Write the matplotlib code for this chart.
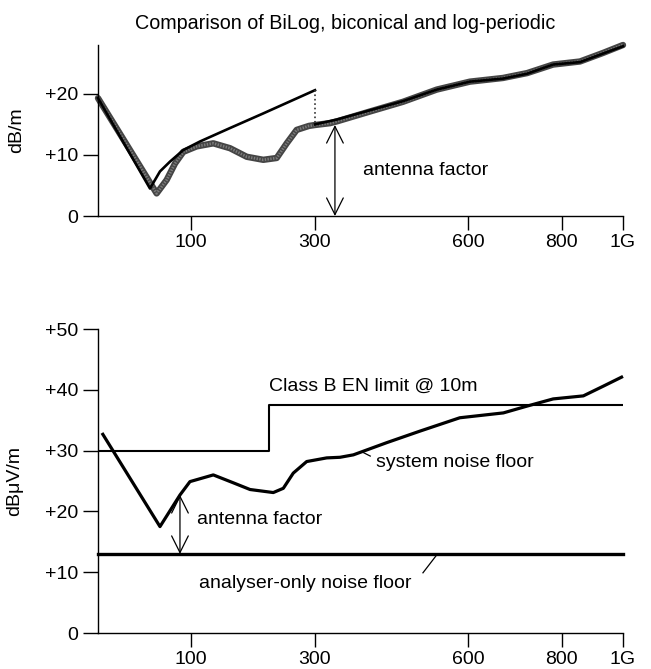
import numpy as np
import matplotlib
matplotlib.use('Agg')
import matplotlib.pyplot as plt

plt.rcParams['font.family'] = ['Liberation Sans', 'DejaVu Sans']

# ---- frequency axis of the original (hand drawn, non-uniform spacing) ----
AXIS_MHZ = [30, 100, 300, 600, 800, 1000]
AXIS_POS = [0.0, 0.1777, 0.4133, 0.7057, 0.8829, 1.0]

TICK_MHZ = [100, 300, 600, 800, 1000]
TICK_LABELS = ['100', '300', '600', '800', '1G']

# ---- top panel: antenna factors (dB/m) ----
bilog_mhz = [30, 54, 74, 81.5, 87.8, 94, 108.7, 135.6, 162.6, 189.6, 216.4, 238.1,
             254.3, 270.4, 290.2, 300, 329.3, 343, 407, 472, 538, 603, 674, 726,
             782, 860, 935, 1000]
bilog_db = [19.3, 10.8, 3.7, 5.9, 8.6, 10.5, 11.4, 11.9, 11.1, 9.7, 9.2, 9.5,
            11.9, 14.1, 14.75, 14.9, 15.2, 15.5, 17.1, 18.7, 20.7, 22.0, 22.6, 23.4,
            24.8, 25.3, 26.7, 28.0]

bicon_mhz = [30, 69, 76.5, 84, 94, 114, 162.6, 216.4, 300]
bicon_db = [19.3, 4.5, 7.3, 8.9, 10.8, 12.2, 14.4, 16.8, 20.6]

logper_mhz = [300, 343, 407, 472, 538, 603, 674, 726, 782, 860, 935, 1000]
logper_db = [15.0, 15.8, 17.3, 18.8, 20.7, 22.0, 22.5, 23.3, 24.8, 25.2, 26.6, 27.8]

# ---- bottom panel: noise floors and limit (dBuV/m) ----
system_mhz = [33, 76.5, 91.5, 99, 135.6, 168, 195, 232.6, 248.8, 264.9, 286.6, 322.9,
              348.9, 375, 440, 505, 583, 675, 725, 782, 871, 936, 1000]
system_db = [32.9, 17.5, 22.7, 24.9, 26.0, 24.7, 23.6, 23.1, 23.8, 26.3, 28.2, 28.8,
             28.9, 29.3, 31.3, 33.2, 35.4, 36.2, 37.3, 38.5, 39.0, 40.6, 42.2]

limit_mhz = [30, 226, 226, 1000]
limit_db = [30, 30, 37.5, 37.5]

analyser_mhz = [30, 1000]
analyser_db = [13.0, 13.0]

TOP_YTICKS = [0, 10, 20]
BOT_YTICKS = [0, 10, 20, 30, 40, 50]


def fwd(f):
    return np.interp(f, AXIS_MHZ, AXIS_POS)


def inv(u):
    return np.interp(u, AXIS_POS, AXIS_MHZ)


def ylab(v):
    return '0' if v == 0 else '+%d' % v


W, H = 651, 669
fig = plt.figure(figsize=(W / 100, H / 100), dpi=100)
ax1 = fig.add_axes([98 / W, 1 - 216 / H, 525 / W, 171 / H])
ax2 = fig.add_axes([98 / W, 1 - 633 / H, 525 / W, 304 / H])

for ax, yt, ylim in ((ax1, TOP_YTICKS, (0, 28)), (ax2, BOT_YTICKS, (0, 50))):
    ax.set_xscale('function', functions=(fwd, inv))
    ax.set_xlim(30, 1000)
    ax.set_ylim(*ylim)
    for s in ('top', 'right'):
        ax.spines[s].set_visible(False)
    for s in ('left', 'bottom'):
        ax.spines[s].set_linewidth(1.0)
    ax.set_xticks(TICK_MHZ)
    ax.set_xticklabels(TICK_LABELS)
    ax.set_xticks([], minor=True)
    ax.set_yticks(yt)
    ax.set_yticklabels([ylab(v) for v in yt])
    ax.tick_params(axis='y', direction='out', length=11, width=1.0, labelsize=14, pad=3)
    ax.tick_params(axis='x', direction='out', length=10, width=1.0, labelsize=14, pad=3)

# top panel curves
ax1.plot(bilog_mhz, bilog_db, color='#454545', lw=4.6, solid_capstyle='round',
         solid_joinstyle='round', clip_on=False, zorder=2)
ax1.plot(bilog_mhz, bilog_db, color='#7c7c7c', lw=2.0, ls=(0, (0.5, 0.5)),
         clip_on=False, zorder=2)
ax1.plot(bicon_mhz, bicon_db, color='black', lw=1.9, solid_joinstyle='round',
         clip_on=False, zorder=3)
ax1.plot([bicon_mhz[-1], bicon_mhz[-1]], [bicon_db[-1], bilog_db[bilog_mhz.index(300)]],
         color='#333333', lw=1.2, ls=':', zorder=3)
ax1.plot(logper_mhz, logper_db, color='black', lw=1.9, solid_joinstyle='round',
         clip_on=False, zorder=3)

ax1.annotate('', xy=(339, 0), xytext=(339, 14.9),
             arrowprops=dict(arrowstyle='<->,head_length=0.6,head_width=0.3',
                             lw=0.9, color='black', mutation_scale=20,
                             shrinkA=0, shrinkB=0))
ax1.text(394, 7.5, 'antenna factor', fontsize=14, ha='left', va='center')

ax1.yaxis.set_label_coords(-0.139, 0.474)
ax1.set_ylabel('dB/m', fontsize=14)

fig.text(0.53, 1 - 23.5 / H, 'Comparison of BiLog, biconical and log-periodic',
         fontsize=14.2, ha='center', va='center')

# bottom panel
ax2.plot(limit_mhz, limit_db, color='black', lw=1.5, zorder=2)
ax2.plot(analyser_mhz, analyser_db, color='black', lw=2.4, clip_on=False, zorder=2)
ax2.plot(system_mhz, system_db, color='black', lw=2.3, clip_on=False, zorder=3,
         solid_joinstyle='round', solid_capstyle='butt')

ax2.annotate('', xy=(91.5, 13.0), xytext=(91.5, 22.7),
             arrowprops=dict(arrowstyle='<->,head_length=0.6,head_width=0.3',
                             lw=0.9, color='black', mutation_scale=20,
                             shrinkA=0, shrinkB=0))
ax2.text(108.7, 18.6, 'antenna factor', fontsize=14, ha='left', va='center')
ax2.text(225, 40.5, 'Class B EN limit @ 10m', fontsize=14, ha='left', va='center')
ax2.text(420, 28.0, 'system noise floor', fontsize=14, ha='left', va='center')
ax2.plot([394, 408], [29.7, 29.1], color='black', lw=0.9)
ax2.text(112.5, 8.2, 'analyser-only noise floor', fontsize=14, ha='left', va='center')
ax2.plot([511, 538], [9.9, 12.85], color='black', lw=0.9)

ax2.yaxis.set_label_coords(-0.143, 0.53)
ax2.set_ylabel('dB\u03bcV/m', fontsize=14)

fig.savefig('out.png', dpi=100)
